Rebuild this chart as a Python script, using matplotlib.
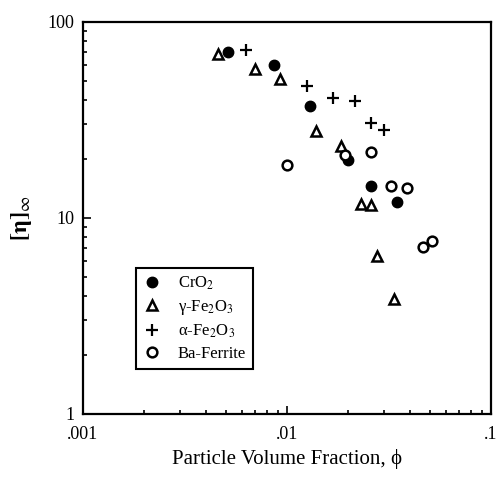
import numpy as np
import matplotlib
matplotlib.use("Agg")
import matplotlib.pyplot as plt
from matplotlib.ticker import FixedLocator, FixedFormatter, LogLocator, NullFormatter

plt.rcParams['font.family'] = ['Liberation Serif', 'DejaVu Serif']
plt.rcParams['mathtext.fontset'] = 'stix'

# volume fraction / intrinsic viscosity for each particle type
cro2_phi = [0.00514, 0.00863, 0.0130, 0.0199, 0.0258, 0.0346]
cro2_eta = [70.3, 60.3, 37.3, 19.8, 14.6, 12.1]

gfe_phi = [0.00459, 0.00697, 0.00924, 0.0139, 0.0184, 0.0231, 0.0258, 0.0276, 0.0335]
gfe_eta = [68.7, 57.5, 51.2, 27.8, 23.3, 11.8, 11.6, 6.4, 3.85]

afe_phi = [0.0063, 0.0125, 0.0168, 0.0215, 0.0258, 0.0300]
afe_eta = [72.0, 47.1, 41.0, 39.5, 30.5, 28.0]

baf_phi = [0.00997, 0.0192, 0.0258, 0.0324, 0.0387, 0.0466, 0.0514]
baf_eta = [18.6, 21.0, 21.8, 14.6, 14.2, 7.1, 7.6]

labels = ['CrO$_2$', '\u03b3-Fe$_2$O$_3$', '\u03b1-Fe$_2$O$_3$', 'Ba-Ferrite']

fig = plt.figure(figsize=(4.99, 4.79), dpi=100)
ax = fig.add_axes([0.1663, 0.1357, 0.8176, 0.8184])

ax.plot(cro2_phi, cro2_eta, 'o', color='black', ms=7.5, label=labels[0])
ax.plot(gfe_phi, gfe_eta, '^', mfc='white', mec='black', mew=1.8, ms=6.5, label=labels[1])
ax.plot(afe_phi, afe_eta, '+', color='black', mew=1.6, ms=9, label=labels[2])
ax.plot(baf_phi, baf_eta, 'o', mfc='white', mec='black', mew=1.8, ms=7, label=labels[3])

ax.set_xscale('log')
ax.set_yscale('log')
ax.set_xlim(0.001, 0.1)
ax.set_ylim(1, 100)

ax.xaxis.set_major_locator(FixedLocator([0.001, 0.01, 0.1]))
ax.xaxis.set_major_formatter(FixedFormatter(['.001', '.01', '.1']))
ax.yaxis.set_major_locator(FixedLocator([1, 10, 100]))
ax.yaxis.set_major_formatter(FixedFormatter(['1', '10', '100']))
for a in (ax.xaxis, ax.yaxis):
    a.set_minor_locator(LogLocator(base=10, subs=np.arange(2, 10)))
    a.set_minor_formatter(NullFormatter())

ax.tick_params(which='both', direction='in', top=False, right=False,
               labelsize=13, width=1.2)
ax.tick_params(which='major', length=6)
ax.tick_params(axis='x', which='major', pad=9)
ax.tick_params(axis='y', which='major', pad=6)
ax.tick_params(which='minor', length=3)
for s in ax.spines.values():
    s.set_linewidth(1.6)

ax.set_xlabel('Particle Volume Fraction, \u03d5', fontsize=15, labelpad=4)
ax.set_ylabel(r'$\mathbf{[\eta]}_{\infty}$', fontsize=17, labelpad=10)

leg = ax.legend(loc='lower left', bbox_to_anchor=(0.130, 0.115), borderaxespad=0,
                fancybox=False, edgecolor='black', framealpha=1, fontsize=12,
                handlelength=1.1, handletextpad=1.0, labelspacing=0.35,
                borderpad=0.4, numpoints=1)
leg.get_frame().set_linewidth(1.5)

fig.savefig('out.png', dpi=100)
